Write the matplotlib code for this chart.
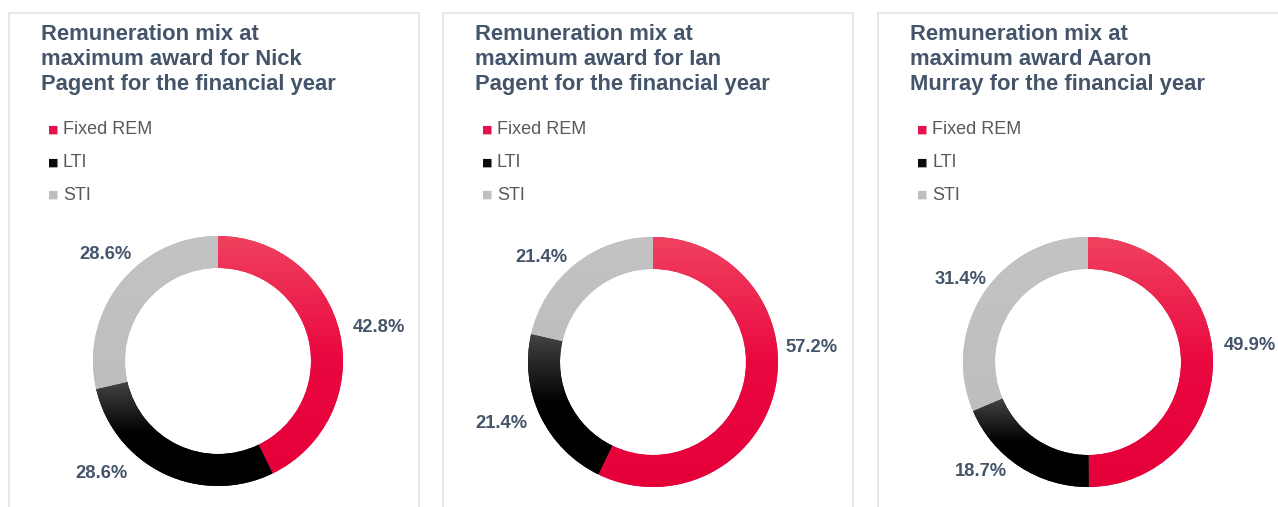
import numpy as np
import matplotlib
matplotlib.use('Agg')
import matplotlib.pyplot as plt
from matplotlib.colors import LinearSegmentedColormap
from matplotlib.patches import Rectangle

plt.rcParams['font.family'] = ['Liberation Sans', 'DejaVu Sans']

# data
categories = ['Fixed REM', 'LTI', 'STI']
titles = ['Remuneration mix at\nmaximum award for Nick\nPagent for the financial year',
          'Remuneration mix at\nmaximum award for Ian\nPagent for the financial year',
          'Remuneration mix at\nmaximum award Aaron\nMurray for the financial year']
nick = [42.8, 28.6, 28.6]
ian = [57.2, 21.4, 21.4]
aaron = [49.9, 18.7, 31.4]
panels_values = [nick, ian, aaron]

# layout (pixels)
W, H = 1278, 507
panel_left = [9, 443, 878]
panel_width = 410
centers = [(218, 361), (653, 362), (1088, 362)]
R = 125
# label offsets in units of radius
label_pos = [
    [(1.288, 0.272), (-0.936, -0.896), (-0.904, 0.848)],
    [(1.272, 0.112), (-1.216, -0.488), (-0.896, 0.832)],
    [(1.296, 0.128), (-0.856, -0.88), (-1.016, 0.656)],
]

title_col = '#44546a'
legend_col = '#595959'
marker_cols = ['#e3124a', '#0a0a0a', '#bfbfbf']

# gradient fills, value 1 = top of each wedge, 0 = bottom
red_cm = LinearSegmentedColormap.from_list('r', [(0, '#e6003a'), (0.5, '#ea0840'),
                                                 (1, '#f0425f')])
blk_cm = LinearSegmentedColormap.from_list('k', [(0, '#000000'), (0.5, '#000000'),
                                                 (1, '#444444')])
gry_cm = LinearSegmentedColormap.from_list('g', ['#bebebe', '#c3c3c3'])
cmaps = [red_cm, blk_cm, gry_cm]

fig = plt.figure(figsize=(W / 100, H / 100), dpi=100)
fig.patch.set_facecolor('white')

for i in range(3):
    x0 = panel_left[i]
    fig.patches.append(Rectangle((x0 / W, -0.1), panel_width / W, (H - 13) / H + 0.1,
                                 transform=fig.transFigure, facecolor='none',
                                 edgecolor='#e3e3e3', linewidth=1.2, zorder=-1))
    fig.text((x0 + 32) / W, 1 - 24 / H, titles[i], fontsize=15.8, fontweight='bold',
             color=title_col, va='top', ha='left', linespacing=1.26)
    for j, cat in enumerate(categories):
        yy = 1 - (130 + 32.5 * j) / H
        fig.text((x0 + 44) / W, yy, '\u25a0', fontsize=8, color=marker_cols[j],
                 va='center', ha='center', family='DejaVu Sans')
        fig.text((x0 + 54) / W, yy, cat, fontsize=13, color=legend_col,
                 va='center', ha='left')

    cx, cy = centers[i]
    ax = fig.add_axes([(cx - R) / W, (H - cy - R) / H, 2 * R / W, 2 * R / H])
    wedges, _ = ax.pie(panels_values[i], radius=1, startangle=90, counterclock=False,
                       colors=marker_cols, wedgeprops=dict(width=0.256, linewidth=0))
    grad = np.linspace(1, 0, 256).reshape(-1, 1)
    for w, cm in zip(wedges, cmaps):
        bb = w.get_path().get_extents()
        im = ax.imshow(grad, cmap=cm, extent=(bb.x0, bb.x1, bb.y0, bb.y1),
                       aspect='auto', vmin=0, vmax=1, zorder=2)
        im.set_clip_path(w)
    ax.set_xlim(-1, 1)
    ax.set_ylim(-1, 1)
    ax.axis('off')
    for j, v in enumerate(panels_values[i]):
        dx, dy = label_pos[i][j]
        ax.text(dx, dy, '%.1f%%' % v, fontsize=13.2, fontweight='bold',
                color=title_col, ha='center', va='center', clip_on=False)

fig.savefig('out.png', dpi=100)
